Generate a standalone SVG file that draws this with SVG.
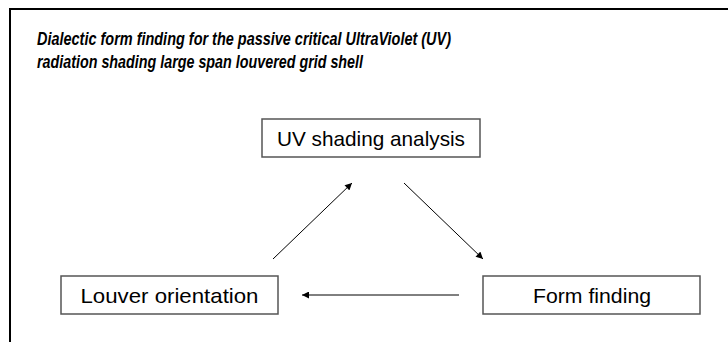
<svg xmlns="http://www.w3.org/2000/svg" width="728" height="342" viewBox="0 0 728 342">
<style>
.frame{fill:none;stroke:#000;stroke-width:2}
.box{fill:#fff;stroke:#555;stroke-width:1.5}
.lbl{font-family:"Liberation Sans",Arial,sans-serif;font-size:21px;fill:#000;text-anchor:middle}
.title{font-family:"Liberation Sans",Arial,sans-serif;font-size:18px;font-weight:bold;font-style:italic;fill:#000}
.conn{fill:none;stroke:#000;stroke-width:1}
</style>
<defs>
<marker id="arr" viewBox="0 0 10 10" refX="10" refY="5" markerWidth="9" markerHeight="7" markerUnits="userSpaceOnUse" orient="auto">
<path d="M0,0 L10,5 L0,10 z" fill="#000"/>
</marker>
</defs>
<rect width="728" height="342" fill="#fff"/>
<path class="frame" d="M10,342 V9 H728"/>
<g id="title">
<text class="title" x="37" y="45" textLength="414" lengthAdjust="spacingAndGlyphs">Dialectic form finding for the passive critical UltraViolet (UV)</text>
<text class="title" x="37" y="68" textLength="326" lengthAdjust="spacingAndGlyphs">radiation shading large span louvered grid shell</text>
</g>
<g id="uv-shading-analysis">
<rect class="box" x="262" y="119" width="218" height="38"/>
<text class="lbl" x="371" y="145.5" textLength="188" lengthAdjust="spacingAndGlyphs">UV shading analysis</text>
</g>
<g id="louver-orientation">
<rect class="box" x="61" y="276" width="217" height="38"/>
<text class="lbl" x="169.5" y="302.5" textLength="178" lengthAdjust="spacingAndGlyphs">Louver orientation</text>
</g>
<g id="form-finding">
<rect class="box" x="483" y="276" width="217" height="38"/>
<text class="lbl" x="592" y="302.5" textLength="118" lengthAdjust="spacingAndGlyphs">Form finding</text>
</g>
<g id="connectors">
<line class="conn" x1="273" y1="259" x2="352" y2="183" marker-end="url(#arr)"/>
<line class="conn" x1="404" y1="183" x2="483" y2="259" marker-end="url(#arr)"/>
<line class="conn" x1="459" y1="295" x2="302" y2="295" marker-end="url(#arr)"/>
</g>
</svg>
